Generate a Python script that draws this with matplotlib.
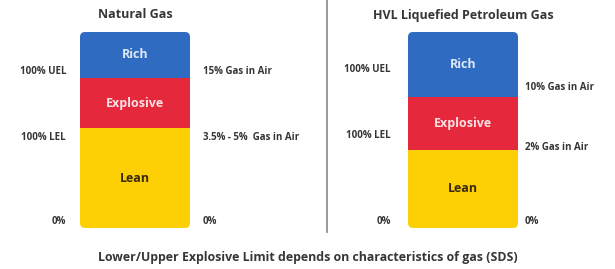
import numpy as np
import matplotlib.pyplot as plt
from matplotlib.patches import FancyBboxPatch

# zones from bottom to top, heights in picture units
zones = ["Lean", "Explosive", "Rich"]
zone_colors = ["#fdd006", "#e5283c", "#2f6cc1"]
zone_text = ["#3b2a06", "#fbe0e3", "#dde8f7"]

titles = ["Natural Gas", "HVL Liquefied Petroleum Gas"]
ng_heights = [100, 50, 46]
lpg_heights = [78, 53, 65]

left_labels = ["0%", "100% LEL", "100% UEL"]
ng_right = ["0%", "3.5% - 5%  Gas in Air", "15% Gas in Air"]
lpg_right = ["0%", "2% Gas in Air", "10% Gas in Air"]

footer = "Lower/Upper Explosive Limit depends on characteristics of gas (SDS)"

plt.rcParams['font.family'] = ['Open Sans', 'DejaVu Sans']

fig = plt.figure(figsize=(6.15, 2.69), dpi=100)
ax = fig.add_axes([0, 0, 1, 1])
ax.set_xlim(0, 615)
ax.set_ylim(0, 269)
ax.axis("off")

base = 41
lab_col = "#363636"


def draw_panel(cx, heights, title, right_labels, left_y, right_y, lx, rx):
    bottoms = base + np.concatenate([[0], np.cumsum(heights)[:-1]])
    bars = ax.bar([cx] * 3, heights, bottom=bottoms, width=110,
                  color=zone_colors, linewidth=0)
    # rounded outline used as clip for the stacked bar
    clip = FancyBboxPatch((cx - 55, base), 110, sum(heights),
                          boxstyle="round,pad=0,rounding_size=5",
                          facecolor="none", edgecolor="none")
    ax.add_patch(clip)
    for b in bars:
        b.set_clip_path(clip)
    for z, b, h, tc in zip(zones, bottoms, heights, zone_text):
        ax.text(cx, b + h / 2, z, ha="center", va="center", color=tc,
                fontsize=9, fontweight="bold")
    ax.text(cx, 269 - 15, title, ha="center", va="center", color=lab_col,
            fontsize=9, fontweight="bold")
    for t, y in zip(left_labels, left_y):
        ax.text(lx, 269 - y, t, ha="right", va="center", color=lab_col,
                fontsize=7, fontweight="bold")
    for t, y in zip(right_labels, right_y):
        ax.text(rx, 269 - y, t, ha="left", va="center", color=lab_col,
                fontsize=7, fontweight="bold")


draw_panel(135, ng_heights, titles[0], ng_right,
           [222, 137, 71], [222, 137, 72], 66, 203)
draw_panel(463, lpg_heights, titles[1], lpg_right,
           [222, 135, 70], [222, 147, 88], 391, 525)

ax.plot([327, 327], [269 - 232, 269], color="#888888", linewidth=1.2)

ax.text(308, 269 - 257, footer, ha="center", va="center", color=lab_col,
        fontsize=8.9, fontweight="bold")

fig.savefig("out.png", dpi=100)
